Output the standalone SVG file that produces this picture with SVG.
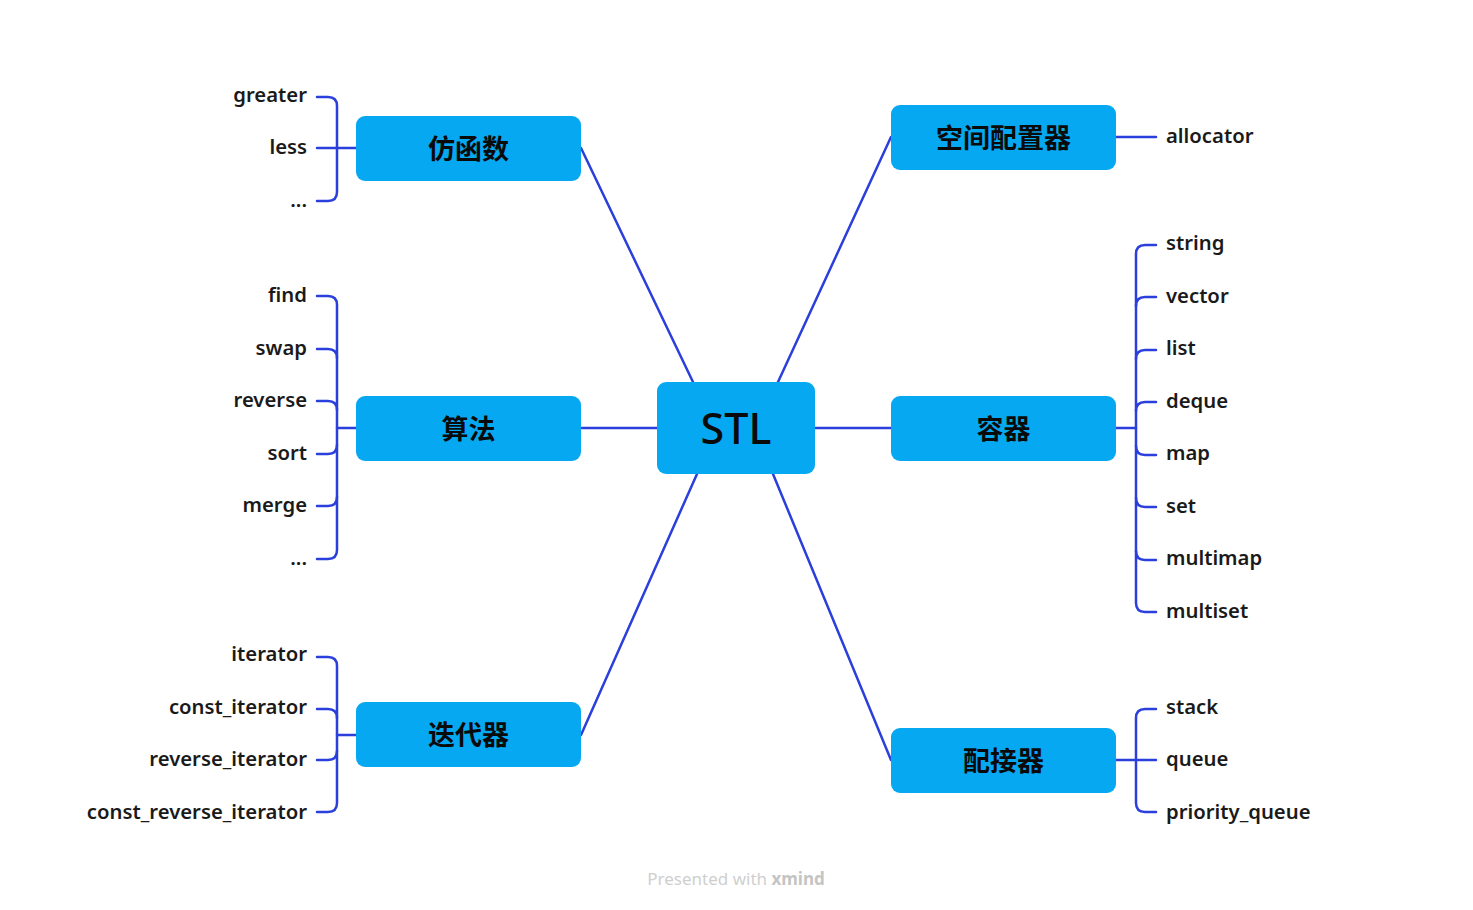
<svg xmlns="http://www.w3.org/2000/svg" width="1473" height="910" viewBox="0 0 1473 910">
<style>
.box{fill:#06a8f2}
.main{fill:#0a0a0a;font-family:"Noto Sans","Noto Sans CJK SC",sans-serif;font-weight:500;font-size:43px;text-anchor:middle}
.topic{fill:#0a0a0a;font-family:"Noto Sans CJK SC","Noto Sans",sans-serif;font-weight:700;font-size:27px;text-anchor:middle}
.sub{fill:#1a1a1a;font-family:"Noto Sans","Open Sans",sans-serif;font-weight:600;font-size:20.3px}
.l{text-anchor:end}
.r{text-anchor:start}
.ln{fill:none;stroke:#2a3fdb;stroke-width:2.5;stroke-linecap:round}
.foot{font-family:"Noto Sans",sans-serif;font-size:17px;fill:#cfcfcf;text-anchor:middle}
</style>
<rect width="1473" height="910" fill="#ffffff"/>
<g id="connectors" class="ln">
<path d="M693 382 L581 148"/>
<path d="M778 382 L891 137"/>
<path d="M581 428 H657"/>
<path d="M815 428 H891"/>
<path d="M697 474 L581 735"/>
<path d="M773 474 L891 760"/>
<path d="M356 148 H337"/>
<path d="M317 97 H328 Q337 97 337 106 V192 Q337 201 328 201 H317"/>
<path d="M317 148 H337"/>
<path d="M356 428 H337"/>
<path d="M317 296 H328 Q337 296 337 305 V550 Q337 559 328 559 H317"/>
<path d="M317 349 H328 Q337 349 337 358"/>
<path d="M317 401 H328 Q337 401 337 410"/>
<path d="M317 454 H328 Q337 454 337 445"/>
<path d="M317 506 H328 Q337 506 337 497"/>
<path d="M356 735 H337"/>
<path d="M317 657 H328 Q337 657 337 666 V803 Q337 812 328 812 H317"/>
<path d="M317 709 H328 Q337 709 337 718"/>
<path d="M317 760 H328 Q337 760 337 751"/>
<path d="M1116 137 H1156"/>
<path d="M1116 428 H1136"/>
<path d="M1156 245 H1145 Q1136 245 1136 254 V603 Q1136 612 1145 612 H1156"/>
<path d="M1156 297 H1145 Q1136 297 1136 306"/>
<path d="M1156 350 H1145 Q1136 350 1136 359"/>
<path d="M1156 402 H1145 Q1136 402 1136 411"/>
<path d="M1156 455 H1145 Q1136 455 1136 446"/>
<path d="M1156 507 H1145 Q1136 507 1136 498"/>
<path d="M1156 560 H1145 Q1136 560 1136 551"/>
<path d="M1116 760 H1136"/>
<path d="M1156 709 H1145 Q1136 709 1136 718 V803 Q1136 812 1145 812 H1156"/>
<path d="M1156 760 H1136"/>
</g>
<g id="stl"><rect class="box" x="657" y="382" width="158" height="92" rx="9"/><text class="main" x="736" y="444">STL</text></g>
<g id="fanghanshu"><rect class="box" x="356" y="116" width="225" height="65" rx="9"/><text class="topic" x="468.5" y="159">仿函数</text></g>
<g id="suanfa"><rect class="box" x="356" y="396" width="225" height="65" rx="9"/><text class="topic" x="468.5" y="439">算法</text></g>
<g id="diedaiqi"><rect class="box" x="356" y="702" width="225" height="65" rx="9"/><text class="topic" x="468.5" y="745">迭代器</text></g>
<g id="kongjianpeizhiqi"><rect class="box" x="891" y="105" width="225" height="65" rx="9"/><text class="topic" x="1003.5" y="148">空间配置器</text></g>
<g id="rongqi"><rect class="box" x="891" y="396" width="225" height="65" rx="9"/><text class="topic" x="1003.5" y="439">容器</text></g>
<g id="peijieqi"><rect class="box" x="891" y="728" width="225" height="65" rx="9"/><text class="topic" x="1003.5" y="771">配接器</text></g>
<g id="fanghanshu-children" class="sub l">
<text x="307" y="102">greater</text>
<text x="307" y="154">less</text>
<text x="307" y="207">...</text>
</g>
<g id="suanfa-children" class="sub l">
<text x="307" y="302">find</text>
<text x="307" y="355">swap</text>
<text x="307" y="407">reverse</text>
<text x="307" y="460">sort</text>
<text x="307" y="512">merge</text>
<text x="307" y="565">...</text>
</g>
<g id="diedaiqi-children" class="sub l">
<text x="307" y="661">iterator</text>
<text x="307" y="714">const_iterator</text>
<text x="307" y="766">reverse_iterator</text>
<text x="307" y="819">const_reverse_iterator</text>
</g>
<g id="kongjian-children" class="sub r">
<text x="1166" y="143">allocator</text>
</g>
<g id="rongqi-children" class="sub r">
<text x="1166" y="250">string</text>
<text x="1166" y="303">vector</text>
<text x="1166" y="355">list</text>
<text x="1166" y="408">deque</text>
<text x="1166" y="460">map</text>
<text x="1166" y="513">set</text>
<text x="1166" y="565">multimap</text>
<text x="1166" y="618">multiset</text>
</g>
<g id="peijieqi-children" class="sub r">
<text x="1166" y="714">stack</text>
<text x="1166" y="766">queue</text>
<text x="1166" y="819">priority_queue</text>
</g>
<text class="foot" x="736" y="885">Presented with <tspan font-weight="700" fill="#c4c4c4">xmind</tspan></text>
</svg>
